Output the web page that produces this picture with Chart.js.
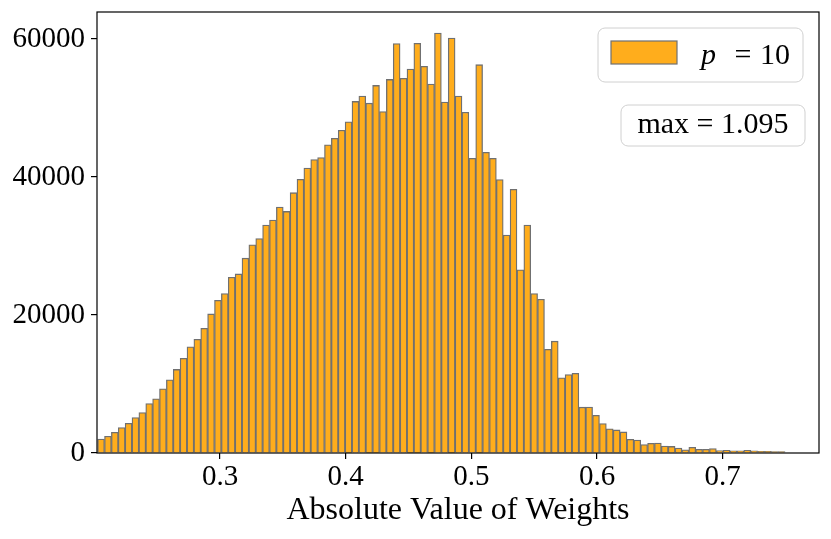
<!DOCTYPE html>
<html>
<head>
<meta charset="utf-8">
<script src="https://cdn.jsdelivr.net/npm/chart.js@4.4.1/dist/chart.umd.min.js"></script>
<style>
  html, body { margin: 0; padding: 0; background: #fff; }
  #wrap { width: 831px; height: 539px; }
</style>
</head>
<body>
<div id="wrap"><canvas id="myChart"></canvas></div>
<script>
// histogram counts, one per bin
const counts = [
  2030, 2430, 3000, 3690, 4310, 5140, 5860, 7170, 7840, 9300,
  10600, 12110, 13710, 15400, 16470, 18070, 20150, 22130, 23090, 25470,
  25950, 28230, 30170, 31080, 33030, 33750, 35640, 35000, 37720, 39650,
  41300, 42510, 42800, 44650, 45600, 46770, 47990, 50940, 51710, 50690,
  53260, 49480, 54130, 59320, 54280, 55630, 59360, 56020, 53450, 60860,
  50860, 60130, 51710, 49380, 42700, 56270, 43570, 42700, 39610, 31570,
  38200, 26540, 33030, 23090, 22280, 15020, 16200, 10890, 11380, 11550,
  6640, 6670, 5450, 4270, 3510, 3340, 3050, 1990, 1890, 1220,
  1410, 1440, 1020, 950, 710, 460, 830, 540, 540, 640,
  350, 400, 300, 300, 400, 300, 250, 250, 200, 200
];
const binStart = 0.2026;
const binWidth = 0.00547;
const xTicks = [0.3, 0.4, 0.5, 0.6, 0.7];
const yTicks = [0, 20000, 40000, 60000];
const xRange = [0.2021, 0.7766];
const yMax = 63900;
const seriesLabel = 'p = 10';
const noteText = 'max = 1.095';

const FONT = "'Liberation Serif', 'DejaVu Serif', serif";
const barFill = '#FFAD1C';
const barEdge = '#707070';

const points = counts.map((c, i) => ({ x: binStart + (i + 0.5) * binWidth, y: c }));

// black frame around the plot area (matplotlib spines)
const framePlugin = {
  id: 'frame',
  afterDatasetsDraw(chart) {
    const { ctx, chartArea: a } = chart;
    ctx.save();
    ctx.strokeStyle = '#000';
    ctx.lineWidth = 1.2;
    ctx.strokeRect(a.left, a.top, a.right - a.left, a.bottom - a.top);
    ctx.restore();
  }
};

function roundBox(ctx, x, y, w, h) {
  ctx.beginPath();
  ctx.roundRect(x, y, w, h, 7);
  ctx.fillStyle = 'rgba(255,255,255,0.8)';
  ctx.fill();
  ctx.strokeStyle = '#d0d0d0';
  ctx.lineWidth = 1;
  ctx.stroke();
}

// legend box and the "max" note in the upper right
const boxesPlugin = {
  id: 'boxes',
  afterDraw(chart) {
    const { ctx, chartArea: a } = chart;
    ctx.save();
    // legend
    const lx = a.right - 16 - 205, ly = a.top + 16;
    roundBox(ctx, lx, ly, 205, 54);
    ctx.fillStyle = barFill;
    ctx.strokeStyle = barEdge;
    ctx.lineWidth = 1.2;
    ctx.fillRect(lx + 13, ly + 13, 66, 23);
    ctx.strokeRect(lx + 13, ly + 13, 66, 23);
    ctx.fillStyle = '#000';
    ctx.textBaseline = 'alphabetic';
    const parts = seriesLabel.split(' ');
    ctx.textAlign = 'left';
    ctx.font = 'italic 30px ' + FONT;
    ctx.fillText(parts[0], lx + 103, ly + 36);
    ctx.font = '30px ' + FONT;
    ctx.textAlign = 'center';
    ctx.fillText(parts[1], lx + 145, ly + 36);
    ctx.textAlign = 'right';
    ctx.fillText(parts[2], lx + 192, ly + 36);
    // max note
    const nx = a.right - 14 - 184, ny = a.top + 93;
    roundBox(ctx, nx, ny, 184, 41);
    ctx.fillStyle = '#000';
    ctx.textAlign = 'center';
    ctx.font = '30px ' + FONT;
    ctx.fillText(noteText, nx + 92, ny + 28);
    ctx.restore();
  }
};

new Chart(document.getElementById('myChart'), {
  type: 'bar',
  data: {
    datasets: [{
      label: seriesLabel,
      data: points,
      backgroundColor: barFill,
      borderColor: barEdge,
      borderWidth: 1.3,
      barPercentage: 1,
      categoryPercentage: 1
    }]
  },
  options: {
    responsive: true,
    maintainAspectRatio: false,
    animation: false,
    layout: { padding: { top: 12, right: 12, left: 0, bottom: 0 } },
    plugins: {
      legend: { display: false },
      tooltip: { enabled: false }
    },
    scales: {
      x: {
        type: 'linear',
        offset: false,
        min: xRange[0],
        max: xRange[1],
        afterBuildTicks: (s) => { s.ticks = xTicks.map(v => ({ value: v })); },
        afterFit: (s) => { s.height = 86; s.paddingLeft = 0; s.paddingRight = 0; },
        border: { display: false },
        grid: { offset: false, drawOnChartArea: false, drawTicks: true, tickLength: 6, tickColor: '#000', lineWidth: 1.2 },
        ticks: {
          color: '#000', padding: 1, maxRotation: 0,
          font: { family: FONT, size: 29 },
          callback: (v) => v.toFixed(1)
        },
        title: {
          display: true, text: 'Absolute Value of Weights', color: '#000',
          font: { family: FONT, size: 32 }, padding: { top: 0, bottom: 9 }
        }
      },
      y: {
        min: 0,
        max: yMax,
        afterBuildTicks: (s) => { s.ticks = yTicks.map(v => ({ value: v })); },
        afterFit: (s) => { s.width = 97; s.paddingTop = 0; s.paddingBottom = 0; },
        border: { display: false },
        grid: { drawOnChartArea: false, drawTicks: true, tickLength: 6, tickColor: '#000', lineWidth: 1.2 },
        ticks: {
          color: '#000', padding: 6,
          font: { family: FONT, size: 29 },
          callback: (v) => String(v)
        }
      }
    }
  },
  plugins: [framePlugin, boxesPlugin]
});
</script>
</body>
</html>
